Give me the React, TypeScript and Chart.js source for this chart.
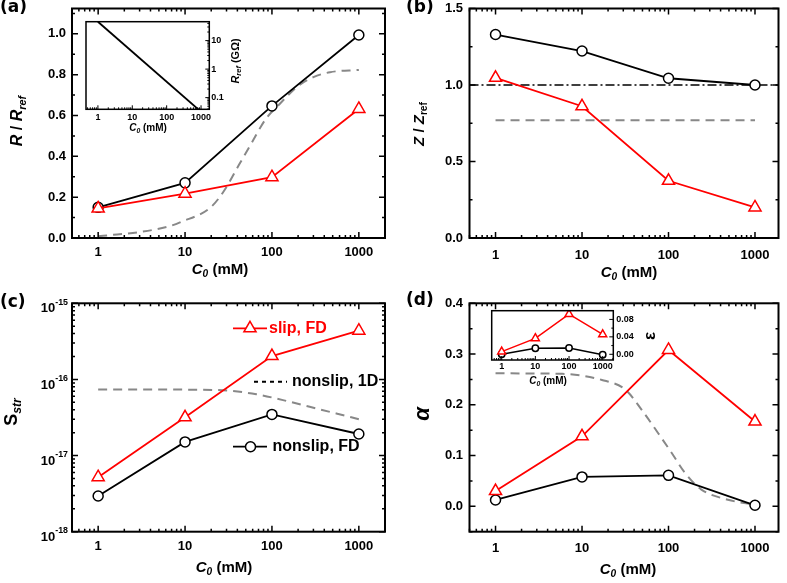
import React, { useEffect, useRef } from 'react';
import { Chart, registerables } from 'chart.js';
Chart.register(...registerables);

const W = 787;
const H = 583;
const FONT = '"Liberation Sans", Arial, sans-serif';
const LFONT = '"DejaVu Sans", Verdana, sans-serif';
const RED = '#ff0000';
const BLACK = '#000000';
const GRAY = '#888888';

// ---------- data ----------
const conc = [1, 10, 100, 1000];
const xTickLabels = [1, 10, 100, 1000];

// (a) R / Rref
const aSlipFD = [0.145, 0.217, 0.298, 0.632];
const aNonslipFD = [0.15, 0.27, 0.647, 0.994];
const a1Dx = [1, 1.5, 3.1, 6.8, 8.9, 19.7, 28, 41.6, 59, 84, 125, 194, 300, 466, 1000];
const a1Dy = [0.008, 0.016, 0.03, 0.059, 0.078, 0.15, 0.23, 0.357, 0.469, 0.58, 0.66, 0.74, 0.788, 0.812, 0.823];
const aYTicks = [0, 0.2, 0.4, 0.6, 0.8, 1.0];
// inset (a) Rref (GOhm)
const aInsetX = [1, 1000];
const aInsetY = [46, 0.032];
const aInsetYTicks = [0.1, 1, 10];

// (b) Z / Zref
const bSlipFD = [1.047, 0.861, 0.374, 0.2];
const bNonslipFD = [1.33, 1.222, 1.044, 1.0];
const bRefX = [0.5, 2000];
const bRefY = [1.0, 1.0];
const b1Dx = [1, 1000];
const b1Dy = [0.77, 0.77];
const bYTicks = [0, 0.5, 1.0, 1.5];

// (c) S_str
const cSlipFD = [5.2e-18, 3.18e-17, 2.03e-16, 4.37e-16];
const cNonslipFD = [2.94e-18, 1.51e-17, 3.47e-17, 1.92e-17];
const c1Dx = [1, 10, 27, 66, 134, 272, 550, 1000];
const c1Dy = [7.4e-17, 7.35e-17, 7.2e-17, 6.4e-17, 5.35e-17, 4.37e-17, 3.57e-17, 3.0e-17];
const cYTicks = [1e-18, 1e-17, 1e-16, 1e-15];
const cYTickExp = ['-18', '-17', '-16', '-15'];

// (d) alpha
const dSlipFD = [0.03, 0.138, 0.308, 0.167];
const dNonslipFD = [0.0125, 0.058, 0.061, 0.002];
const d1Dx = [1, 5.9, 17, 31.7, 49, 76, 109, 155, 240, 486, 1000];
const d1Dy = [0.262, 0.261, 0.249, 0.23, 0.19, 0.144, 0.105, 0.066, 0.033, 0.013, 0.003];
const dYTicks = [0, 0.1, 0.2, 0.3, 0.4];
// inset (d) epsilon
const eSlipFD = [0.006, 0.0366, 0.092, 0.0457];
const eNonslipFD = [0.0, 0.0137, 0.0145, -0.001];
const eYTicks = [0, 0.04, 0.08];

// ---------- helpers ----------
type Seg = { t: string; i?: boolean; sub?: boolean; sup?: boolean };
type TextItem = {
  segs: Seg[]; x: number; y: number; size: number;
  align?: 'left' | 'center' | 'right'; rot?: number; color?: string; family?: string;
};

function drawRich(ctx: CanvasRenderingContext2D, it: TextItem) {
  const { segs, x, y, size, align = 'center', rot = 0, color = BLACK, family = FONT } = it;
  const small = size * 0.68;
  const fontFor = (s: Seg) => `${s.i ? 'italic ' : ''}bold ${s.sub || s.sup ? small : size}px ${family}`;
  ctx.save();
  let total = 0;
  const widths = segs.map((s) => {
    ctx.font = fontFor(s);
    const w = ctx.measureText(s.t).width;
    total += w;
    return w;
  });
  ctx.translate(x, y);
  ctx.rotate((rot * Math.PI) / 180);
  let cx = align === 'left' ? 0 : align === 'right' ? -total : -total / 2;
  ctx.fillStyle = color;
  ctx.textBaseline = 'middle';
  ctx.textAlign = 'left';
  segs.forEach((s, k) => {
    ctx.font = fontFor(s);
    const dy = s.sub ? size * 0.3 : s.sup ? -size * 0.38 : 0;
    ctx.fillText(s.t, cx, dy);
    cx += widths[k];
  });
  ctx.restore();
}

function marker(ctx: CanvasRenderingContext2D, kind: 'circle' | 'triangle', x: number, y: number, r: number, color: string) {
  ctx.save();
  ctx.beginPath();
  if (kind === 'circle') {
    ctx.arc(x, y, r, 0, Math.PI * 2);
  } else {
    let a = 0;
    ctx.moveTo(x + Math.sin(a) * r, y - Math.cos(a) * r);
    a += (2 * Math.PI) / 3;
    ctx.lineTo(x + Math.sin(a) * r, y - Math.cos(a) * r);
    a += (2 * Math.PI) / 3;
    ctx.lineTo(x + Math.sin(a) * r, y - Math.cos(a) * r);
    ctx.closePath();
  }
  ctx.fillStyle = '#fff';
  ctx.fill();
  ctx.lineWidth = 1.5;
  ctx.strokeStyle = color;
  ctx.stroke();
  ctx.restore();
}

function logMinors(min: number, max: number) {
  const out: number[] = [];
  for (let e = Math.floor(Math.log10(min)); e <= Math.ceil(Math.log10(max)); e++) {
    for (let m = 2; m <= 9; m++) {
      const v = m * Math.pow(10, e);
      if (v >= min && v <= max) out.push(v);
    }
  }
  return out;
}

type LegendItem = { x1: number; x2: number; y: number; color: string; dash?: number[]; marker?: 'circle' | 'triangle'; mx?: number; r?: number; text: TextItem };

type Decor = {
  frame: number; tickW: number; major: number; minor: number;
  sides: { left?: boolean; right?: boolean; top?: boolean; bottom?: boolean };
  xMajor: number[]; xMinor: number[];
  yMajor: number[]; yMinor: number[];
  texts: TextItem[];
  legend?: LegendItem[];
  yRich?: { values: number[]; exps: string[]; xRight: number; size: number; dy: number };
};

function decorPlugin(d: Decor) {
  return {
    id: 'decor',
    afterDraw(chart: any) {
      const ctx: CanvasRenderingContext2D = chart.ctx;
      const { left, right, top, bottom } = chart.chartArea;
      const xs = chart.scales.x;
      const ys = chart.scales.y;
      ctx.save();
      ctx.strokeStyle = BLACK;
      ctx.lineWidth = d.tickW;
      ctx.beginPath();
      const xt = (v: number, len: number) => {
        const p = xs.getPixelForValue(v);
        if (p < left || p > right) return;
        if (d.sides.bottom) { ctx.moveTo(p, bottom); ctx.lineTo(p, bottom - len); }
        if (d.sides.top) { ctx.moveTo(p, top); ctx.lineTo(p, top + len); }
      };
      const yt = (v: number, len: number) => {
        const p = ys.getPixelForValue(v);
        if (p < top - 0.5 || p > bottom + 0.5) return;
        if (d.sides.left) { ctx.moveTo(left, p); ctx.lineTo(left + len, p); }
        if (d.sides.right) { ctx.moveTo(right, p); ctx.lineTo(right - len, p); }
      };
      d.xMajor.forEach((v) => xt(v, d.major));
      d.xMinor.forEach((v) => xt(v, d.minor));
      d.yMajor.forEach((v) => yt(v, d.major));
      d.yMinor.forEach((v) => yt(v, d.minor));
      ctx.stroke();
      ctx.lineWidth = d.frame;
      ctx.strokeRect(left, top, right - left, bottom - top);
      if (d.yRich) {
        const r = d.yRich;
        r.values.forEach((v, k) => {
          const p = ys.getPixelForValue(v);
          ctx.fillStyle = BLACK;
          ctx.textBaseline = 'middle';
          ctx.textAlign = 'right';
          const ss = r.size * 0.68;
          ctx.font = `bold ${ss}px ${FONT}`;
          const we = ctx.measureText(r.exps[k]).width;
          ctx.fillText(r.exps[k], r.xRight, p + r.dy - r.size * 0.5);
          ctx.font = `bold ${r.size}px ${FONT}`;
          ctx.fillText('10', r.xRight - we, p + r.dy);
        });
      }
      (d.legend || []).forEach((l) => {
        ctx.save();
        ctx.strokeStyle = l.color;
        ctx.lineWidth = l.dash ? 2 : 1.8;
        ctx.setLineDash(l.dash || []);
        ctx.beginPath();
        ctx.moveTo(l.x1, l.y);
        ctx.lineTo(l.x2, l.y);
        ctx.stroke();
        ctx.restore();
        if (l.marker) marker(ctx, l.marker, l.mx as number, l.y, l.r as number, l.color);
        drawRich(ctx, l.text);
      });
      d.texts.forEach((t) => drawRich(ctx, t));
      ctx.restore();
    },
  };
}

const pts = (xs: number[], ys: number[]) => xs.map((x, i) => ({ x, y: ys[i] }));

const slipDs = (ys: number[], r = 7, bw = 1.8) => ({
  data: pts(conc, ys), borderColor: RED, borderWidth: bw, pointStyle: 'triangle', pointRadius: r,
  pointBorderWidth: 1.5, pointBorderColor: RED, pointBackgroundColor: '#fff', tension: 0, fill: false,
});
const nonslipDs = (ys: number[], r = 5, bw = 1.8) => ({
  data: pts(conc, ys), borderColor: BLACK, borderWidth: bw, pointStyle: 'circle', pointRadius: r,
  pointBorderWidth: 1.5, pointBorderColor: BLACK, pointBackgroundColor: '#fff', tension: 0, fill: false,
});
const curveDs = (xs: number[], ys: number[], color = GRAY, dash = [9, 6], bw = 2) => ({
  data: pts(xs, ys), borderColor: color, borderWidth: bw, borderDash: dash, pointRadius: 0,
  cubicInterpolationMode: 'monotone', fill: false,
});

const c0 = (x: number, y: number, size = 15): TextItem => ({
  segs: [{ t: 'C', i: true }, { t: '0', i: true, sub: true }, { t: ' (mM)' }], x, y, size,
});

type Spec = {
  area: { l: number; t: number; r: number; b: number };
  xMin: number; xMax: number; xSize: number; xPad: number;
  yType: 'linear' | 'logarithmic'; yMin: number; yMax: number; yTicks: number[];
  yFmt: (v: number) => string; yPad: number; yPos: 'left' | 'right'; ySize: number; yShow: boolean;
  boxW: number; boxH: number;
  datasets: any[]; decor: Decor;
};

const fmt1 = (v: number) => v.toFixed(1);

function buildSpecs(): Spec[] {
  const mainDecor = (yMajor: number[], yMinor: number[], texts: TextItem[], xMin: number, xMax: number): Decor => ({
    frame: 2, tickW: 1.5, major: 6, minor: 3,
    sides: { left: true, right: true, top: true, bottom: true },
    xMajor: xTickLabels, xMinor: logMinors(xMin, xMax), yMajor, yMinor, texts,
  });
  const a: Spec = {
    area: { l: 72, t: 3, r: 385, b: 238 },
    xMin: 0.5, xMax: 2000, xSize: 13, xPad: 7,
    yType: 'linear', yMin: 0, yMax: 1.124, yTicks: aYTicks, yFmt: fmt1, yPad: 6, yPos: 'left', ySize: 13, yShow: true,
    boxW: 50, boxH: 26,
    datasets: [slipDs(aSlipFD), nonslipDs(aNonslipFD), curveDs(a1Dx, a1Dy)],
    decor: mainDecor(aYTicks, [0.1, 0.3, 0.5, 0.7, 0.9, 1.1], [
      { segs: [{ t: '(a)' }], x: 0, y: 7.5, size: 17, align: 'left', family: LFONT },
      c0(220, 270),
      { segs: [{ t: 'R', i: true }, { t: ' / ' }, { t: 'R', i: true }, { t: 'ref', i: true, sub: true }], x: 18, y: 121, size: 16, rot: -90 },
    ], 0.5, 2000),
  };
  const b: Spec = {
    area: { l: 469.5, t: 8, r: 781, b: 238 },
    xMin: 0.5, xMax: 1870, xSize: 13, xPad: 10,
    yType: 'linear', yMin: 0, yMax: 1.5, yTicks: bYTicks, yFmt: fmt1, yPad: 6.5, yPos: 'left', ySize: 13, yShow: true,
    boxW: 50, boxH: 28,
    datasets: [
      slipDs(bSlipFD), nonslipDs(bNonslipFD),
      { ...curveDs(bRefX, bRefY, BLACK, [9, 3, 2, 3], 1.5), cubicInterpolationMode: 'default', tension: 0 },
      curveDs(b1Dx, b1Dy),
    ],
    decor: mainDecor(bYTicks, [0.25, 0.75, 1.25], [
      { segs: [{ t: '(b)' }], x: 406, y: 7.5, size: 17, align: 'left', family: LFONT },
      c0(629, 273),
      { segs: [{ t: 'Z', i: true }, { t: ' / ' }, { t: 'Z', i: true }, { t: 'ref', sub: true }], x: 420, y: 124, size: 15, rot: -90 },
    ], 0.5, 1870),
  };
  const cDecor = mainDecor(cYTicks, logMinors(1e-18, 1e-15), [
    { segs: [{ t: '(c)' }], x: 0, y: 303, size: 17, align: 'left', family: LFONT },
    c0(224, 568),
    { segs: [{ t: 'S' }, { t: 'str', i: true, sub: true }], x: 12, y: 412, size: 18, rot: -90 },
  ], 0.5, 2000);
  cDecor.yRich = { values: cYTicks, exps: cYTickExp, xRight: 68, size: 13, dy: 5.5 };
  cDecor.legend = [
    { x1: 233, x2: 267, y: 328.3, color: RED, marker: 'triangle', mx: 250, r: 7,
      text: { segs: [{ t: 'slip, FD' }], x: 269, y: 328.3, size: 16, align: 'left', color: RED } },
    { x1: 254, x2: 287, y: 381.7, color: BLACK, dash: [4, 4],
      text: { segs: [{ t: 'nonslip, 1D' }], x: 292, y: 381.7, size: 16, align: 'left' } },
    { x1: 233, x2: 267, y: 446.7, color: BLACK, marker: 'circle', mx: 250.5, r: 5,
      text: { segs: [{ t: 'nonslip, FD' }], x: 272.5, y: 446.7, size: 16, align: 'left' } },
  ];
  const c: Spec = {
    area: { l: 72, t: 303.3, r: 385, b: 531.7 },
    xMin: 0.5, xMax: 2000, xSize: 13, xPad: 7,
    yType: 'logarithmic', yMin: 1e-18, yMax: 1e-15, yTicks: cYTicks, yFmt: (v) => String(v), yPad: 4, yPos: 'left', ySize: 13, yShow: false,
    boxW: 50, boxH: 24,
    datasets: [slipDs(cSlipFD), nonslipDs(cNonslipFD), curveDs(c1Dx, c1Dy)],
    decor: cDecor,
  };
  const d: Spec = {
    area: { l: 469.5, t: 303.3, r: 781, b: 531.7 },
    xMin: 0.5, xMax: 1870, xSize: 13, xPad: 9,
    yType: 'linear', yMin: -0.05, yMax: 0.4, yTicks: dYTicks, yFmt: fmt1, yPad: 6.5, yPos: 'left', ySize: 13, yShow: true,
    boxW: 50, boxH: 26,
    datasets: [slipDs(dSlipFD), nonslipDs(dNonslipFD), curveDs(d1Dx, d1Dy)],
    decor: mainDecor(dYTicks, [-0.05, 0.05, 0.15, 0.25, 0.35], [
      { segs: [{ t: '(d)' }], x: 406, y: 301, size: 17, align: 'left', family: LFONT },
      c0(628, 570),
      { segs: [{ t: 'α', i: true }], x: 423, y: 414, size: 22, rot: -90 },
    ], 0.5, 1870),
  };
  const ia: Spec = {
    area: { l: 86, t: 21.7, r: 209.3, b: 109.3 },
    xMin: 0.45, xMax: 1740, xSize: 9, xPad: 3,
    yType: 'logarithmic', yMin: 0.039, yMax: 46, yTicks: aInsetYTicks, yFmt: (v) => String(v), yPad: 2, yPos: 'right', ySize: 9, yShow: true,
    boxW: 24, boxH: 14,
    datasets: [{ ...curveDs(aInsetX, aInsetY, BLACK, [], 1.8), cubicInterpolationMode: 'default', tension: 0 }],
    decor: {
      frame: 1.5, tickW: 1, major: 4, minor: 2,
      sides: { right: true, bottom: true },
      xMajor: xTickLabels, xMinor: logMinors(0.45, 1740), yMajor: aInsetYTicks, yMinor: logMinors(0.039, 46),
      texts: [
        c0(148, 128, 10),
        { segs: [{ t: 'R', i: true }, { t: 'ref', i: true, sub: true }, { t: ' (GΩ)' }], x: 236, y: 61, size: 11, rot: -90 },
      ],
    },
  };
  const id: Spec = {
    area: { l: 491.7, t: 310.7, r: 613.3, b: 360 },
    xMin: 0.505, xMax: 2064, xSize: 9, xPad: 1,
    yType: 'linear', yMin: -0.0131, yMax: 0.1, yTicks: eYTicks, yFmt: (v) => v.toFixed(2), yPad: 3, yPos: 'right', ySize: 9, yShow: true,
    boxW: 30, boxH: 14,
    datasets: [slipDs(eSlipFD, 4.6, 1.5), nonslipDs(eNonslipFD, 3.2, 1.5)],
    decor: {
      frame: 1.5, tickW: 1, major: 4, minor: 2,
      sides: { right: true, bottom: true },
      xMajor: xTickLabels, xMinor: logMinors(0.505, 2064), yMajor: eYTicks, yMinor: [0.02, 0.06],
      texts: [
        c0(548, 381, 10),
        { segs: [{ t: 'ε' }], x: 650, y: 336, size: 17, rot: -90 },
      ],
    },
  };
  return [a, b, c, d, ia, id];
}

function build(canvas: HTMLCanvasElement, s: Spec) {
  const padding = {
    top: s.area.t,
    bottom: H - s.area.b - s.boxH,
    left: s.yPos === 'left' ? s.area.l - s.boxW : s.area.l,
    right: s.yPos === 'right' ? W - s.area.r - s.boxW : W - s.area.r,
  };
  return new Chart(canvas, {
    type: 'line',
    data: { datasets: s.datasets },
    options: {
      animation: false,
      responsive: false,
      devicePixelRatio: 1,
      events: [],
      layout: { padding },
      plugins: { legend: { display: false }, tooltip: { enabled: false }, title: { display: false } },
      scales: {
        x: {
          type: 'logarithmic', position: 'bottom', min: s.xMin, max: s.xMax, bounds: 'data',
          grid: { display: false, drawTicks: false }, border: { display: false },
          ticks: {
            autoSkip: false, maxRotation: 0, padding: s.xPad, color: BLACK,
            font: { family: FONT, size: s.xSize, weight: 'bold' },
            callback: (v: any) => String(v),
          },
          afterBuildTicks: (sc: any) => { sc.ticks = xTickLabels.map((v) => ({ value: v })); },
          afterFit: (sc: any) => { sc.height = s.boxH; sc.paddingLeft = 0; sc.paddingRight = 0; },
        },
        y: {
          type: s.yType, position: s.yPos, min: s.yMin, max: s.yMax, bounds: 'data',
          grid: { display: false, drawTicks: false }, border: { display: false },
          ticks: {
            display: s.yShow, autoSkip: false, padding: s.yPad, color: BLACK,
            font: { family: FONT, size: s.ySize, weight: 'bold' },
            callback: (v: any) => s.yFmt(Number(v)),
          },
          afterBuildTicks: (sc: any) => { sc.ticks = s.yTicks.map((v) => ({ value: v })); },
          afterFit: (sc: any) => { sc.width = s.boxW; sc.paddingTop = 0; sc.paddingBottom = 0; },
        },
      },
    } as any,
    plugins: [decorPlugin(s.decor) as any],
  });
}

export default function App() {
  const refs = useRef<(HTMLCanvasElement | null)[]>([]);
  const specs = buildSpecs();
  useEffect(() => {
    const charts = buildSpecs().map((s, i) => build(refs.current[i] as HTMLCanvasElement, s));
    return () => charts.forEach((c) => c.destroy());
  }, []);
  return (
    <div style={{ position: 'fixed', left: 0, top: 0, width: W, height: H, background: '#fff', overflow: 'hidden' }}>
      {specs.map((_, i) => (
        <canvas
          key={i}
          ref={(el) => { refs.current[i] = el; }}
          width={W}
          height={H}
          style={{ position: 'absolute', left: 0, top: 0, width: W, height: H }}
        />
      ))}
    </div>
  );
}
